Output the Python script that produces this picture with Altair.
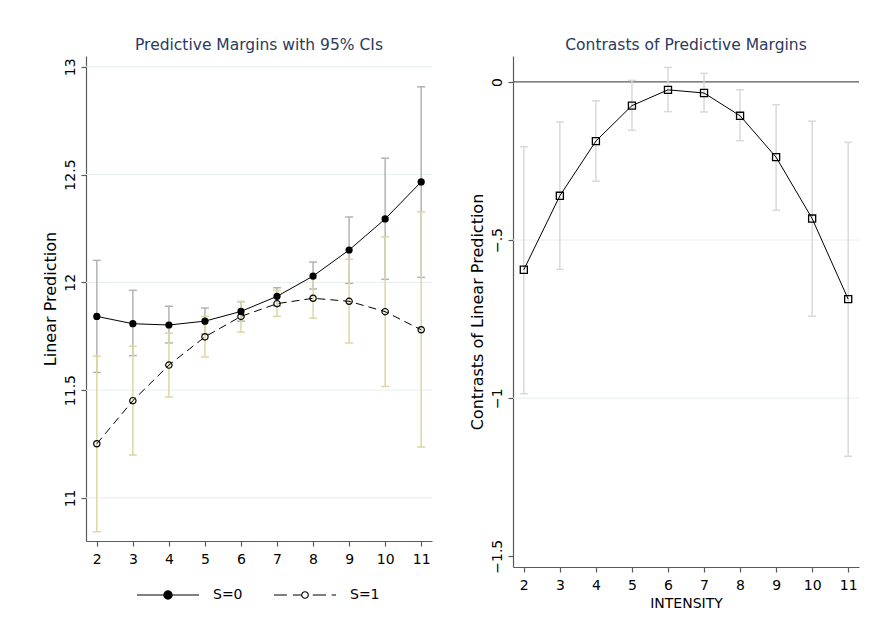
import altair as alt
import pandas as pd

# ---------------- data ----------------
intensity = [2, 3, 4, 5, 6, 7, 8, 9, 10, 11]

s0_margin = [11.842, 11.808, 11.802, 11.820, 11.865, 11.935, 12.029, 12.150, 12.294, 12.466]
s0_lo = [11.582, 11.660, 11.719, 11.760, 11.820, 11.890, 11.969, 11.995, 12.014, 12.023]
s0_hi = [12.102, 11.963, 11.889, 11.881, 11.910, 11.975, 12.094, 12.303, 12.576, 12.907]

s1_margin = [11.251, 11.451, 11.616, 11.747, 11.842, 11.901, 11.926, 11.912, 11.864, 11.780]
s1_lo = [10.843, 11.199, 11.468, 11.654, 11.769, 11.842, 11.834, 11.719, 11.517, 11.236]
s1_hi = [11.657, 11.703, 11.765, 11.842, 11.912, 11.962, 12.018, 12.107, 12.211, 12.327]

contrast = [-0.594, -0.360, -0.187, -0.075, -0.025, -0.035, -0.107, -0.238, -0.432, -0.687]
c_lo = [-0.986, -0.593, -0.314, -0.153, -0.094, -0.095, -0.186, -0.406, -0.741, -1.184]
c_hi = [-0.205, -0.127, -0.060, 0.005, 0.046, 0.027, -0.025, -0.072, -0.124, -0.191]

left_ticks = [11, 11.5, 12, 12.5, 13]
right_ticks = [0, -0.5, -1, -1.5]
left_grid = [11, 11.5, 12, 12.5, 13]
right_grid = [-0.5, -1]
series = ["S=0", "S=1"]

# ---------------- styling ----------------
FONT = "DejaVu Sans"
TITLE_COLOR = "#2b3a5e"
AXIS_COLOR = "#5a5a5a"
GRID_COLOR = "#e6eff1"
S0_CI = "#b3b3b3"
S1_CI = "#dcd6a4"
C_CI = "#d9d9d9"

df = pd.DataFrame({
    "x": intensity,
    "s0": s0_margin, "s0lo": s0_lo, "s0hi": s0_hi,
    "s1": s1_margin, "s1lo": s1_lo, "s1hi": s1_hi,
    "c": contrast, "clo": c_lo, "chi": c_hi,
})

xscale = alt.Scale(domain=[1.7, 11.3], nice=False, zero=False)
yscale_l = alt.Scale(domain=[10.8, 13.05], nice=False, zero=False)
yscale_r = alt.Scale(domain=[-1.534, 0.082], nice=False, zero=False)

xaxis_l = alt.Axis(values=intensity, title=None, grid=False, format="d")
xaxis_r = alt.Axis(values=intensity, title="INTENSITY", grid=False, format="d")
yaxis_l = alt.Axis(values=left_ticks, title="Linear Prediction", grid=False,
                   labelExpr="format(datum.value, '~g')")
yaxis_r = alt.Axis(values=right_ticks, title="Contrasts of Linear Prediction", grid=False,
                   labelExpr="replace(format(datum.value, '~g'), '0.', '.')")


def X(ax):
    return alt.X("x:Q", scale=xscale, axis=ax)


def Yf(field, sc, ax):
    return alt.Y(f"{field}:Q", scale=sc, axis=ax)


def ci_layers(base, lo, hi, color, sc, ax, xax):
    bar = base.mark_rule(color=color, strokeWidth=1.5).encode(
        x=X(xax), y=Yf(lo, sc, ax), y2=alt.Y2(f"{hi}:Q"))
    cap_lo = base.mark_rule(color=color, strokeWidth=1.5, xOffset=-4, x2Offset=4).encode(
        x=X(xax), x2=alt.X2("x:Q"), y=Yf(lo, sc, ax))
    cap_hi = base.mark_rule(color=color, strokeWidth=1.5, xOffset=-4, x2Offset=4).encode(
        x=X(xax), x2=alt.X2("x:Q"), y=Yf(hi, sc, ax))
    return [bar, cap_lo, cap_hi]


def circle_path(r):
    return f"M{-r},0A{r},{r},0,1,1,{r},0A{r},{r},0,1,1,{-r},0Z"


base = alt.Chart(df)

# ---------- left panel ----------
grid_l = alt.Chart(pd.DataFrame({"g": left_grid})).mark_rule(
    color=GRID_COLOR, strokeWidth=1).encode(y=Yf("g", yscale_l, yaxis_l))

line_s0 = base.mark_line(color="black", strokeWidth=1).encode(x=X(xaxis_l), y=Yf("s0", yscale_l, yaxis_l))
line_s1 = base.mark_line(color="black", strokeWidth=1, strokeDash=[8, 5]).encode(
    x=X(xaxis_l), y=Yf("s1", yscale_l, yaxis_l))
pt_s0 = base.mark_point(filled=True, color="black", size=52, opacity=1).encode(
    x=X(xaxis_l), y=Yf("s0", yscale_l, yaxis_l))
pt_s1 = base.mark_point(filled=False, color="black", size=40, strokeWidth=1.2, opacity=1).encode(
    x=X(xaxis_l), y=Yf("s1", yscale_l, yaxis_l))

# legend glyphs: line + filled circle / dashed line + hollow circle
path0 = "M-1,0L1,0" + "".join(circle_path(r) for r in (0.135, 0.105, 0.075, 0.045, 0.015))
path1 = "M-1,0L-0.583,0M-0.39,0L-0.11,0M0.25,0L0.68,0M0.86,0L1,0" + circle_path(0.106)

leg_df = pd.DataFrame({"series": series, "flag": [0, 0]})
legend_def = alt.Legend(
    title=None, orient="none", legendX=50, legendY=507, direction="horizontal",
    columns=2, symbolSize=3844, symbolStrokeWidth=1.1,
    labelFont=FONT, labelFontSize=14, labelColor="black", labelOffset=13,
    columnPadding=28, padding=0)
legend_layer = alt.Chart(leg_df).transform_filter("datum.flag > 1").mark_point(
    filled=False, strokeWidth=1.1, size=3844, opacity=1).encode(
    shape=alt.Shape("series:N", scale=alt.Scale(domain=series, range=[path0, path1]), legend=legend_def),
    color=alt.Color("series:N", scale=alt.Scale(domain=series, range=["black", "black"]), legend=legend_def),
)

left = alt.layer(
    grid_l,
    *ci_layers(base, "s0lo", "s0hi", S0_CI, yscale_l, yaxis_l, xaxis_l),
    *ci_layers(base, "s1lo", "s1hi", S1_CI, yscale_l, yaxis_l, xaxis_l),
    line_s0, line_s1, pt_s0, pt_s1, legend_layer,
).properties(
    width=346, height=485,
    title=alt.TitleParams("Predictive Margins with 95% CIs", font=FONT, fontSize=15.5,
                          fontWeight="normal", color=TITLE_COLOR, offset=3, anchor="middle"),
)

# ---------- right panel ----------
grid_r = alt.Chart(pd.DataFrame({"g": right_grid})).mark_rule(
    color=GRID_COLOR, strokeWidth=1).encode(y=Yf("g", yscale_r, yaxis_r))
zero_r = alt.Chart(pd.DataFrame({"z": [0]})).mark_rule(
    color=AXIS_COLOR, strokeWidth=1.2).encode(y=Yf("z", yscale_r, yaxis_r))
line_c = base.mark_line(color="black", strokeWidth=1).encode(x=X(xaxis_r), y=Yf("c", yscale_r, yaxis_r))
pt_c = base.mark_point(shape="square", filled=False, color="black", size=50, strokeWidth=1.3,
                       opacity=1).encode(x=X(xaxis_r), y=Yf("c", yscale_r, yaxis_r))

right = alt.layer(
    grid_r, zero_r,
    *ci_layers(base, "clo", "chi", C_CI, yscale_r, yaxis_r, xaxis_r),
    line_c, pt_c,
).properties(
    width=346, height=511,
    title=alt.TitleParams("Contrasts of Predictive Margins", font=FONT, fontSize=15.5,
                          fontWeight="normal", color=TITLE_COLOR, offset=3, anchor="middle"),
)

chart = alt.hconcat(left, right, spacing=36).resolve_scale(
    shape="independent", color="independent"
).properties(
    padding={"left": 34, "top": 29, "right": 5, "bottom": 5},
    background="white",
).configure_view(strokeWidth=0).configure_axis(
    domainColor=AXIS_COLOR, domainWidth=1.2, tickColor=AXIS_COLOR, tickWidth=1.2, tickSize=5,
    labelFont=FONT, labelFontSize=14, labelColor="black",
    titleFont=FONT, titleFontWeight="normal", titleColor="black",
).configure_axisY(
    labelAngle=-90, labelAlign="center", labelBaseline="bottom", labelPadding=4, titlePadding=5,
    titleFontSize=16,
).configure_axisX(
    labelPadding=6, titlePadding=4, titleFontSize=14,
)

chart.save("out.html", embed_options={"renderer": "svg", "actions": False})
